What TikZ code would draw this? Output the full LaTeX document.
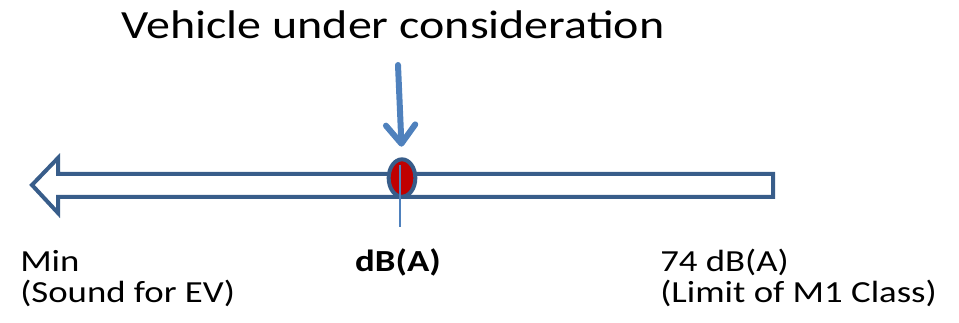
\documentclass[tikz,border=0pt]{standalone}
\usepackage{fontspec}
\setmainfont{Carlito}[FakeStretch=1.2]
\usetikzlibrary{arrows.meta,shapes.geometric}

\definecolor{outline}{HTML}{385D8A}
\definecolor{marker}{HTML}{4F81BD}
\definecolor{hit}{HTML}{C00000}

\begin{document}
\begin{tikzpicture}
[x=0.75pt, y=-0.75pt,
    scale label/.style={anchor=base west, align=left, inner sep=0pt,
        font=\fontsize{23}{23.25}\selectfont},
    level arrow/.style={draw=outline, line width=3pt, line join=miter, fill=white},
    pointer/.style={draw=marker, line width=4.5pt, line cap=round,
        -{Straight Barb[length=14pt, width=22pt, line cap=round, line join=round]}}]
\useasboundingbox (0,0) rectangle (959,323);

% the scale, pointing to the quiet end
\draw [level arrow] (32,185) -- (58,158) -- (58,174) -- (773,174)
    -- (773,197) -- (58,197) -- (58,213) -- cycle;

% the vehicle on the scale
\node (veh) [ellipse, draw=outline, fill=hit, line width=3pt,
    minimum width=20pt, minimum height=28pt, inner sep=0pt] at (402,178) {};
\coordinate (tick top) at (400,165);
\coordinate (tick end) at (400,227);
\draw [marker, line width=1.2pt] (tick top) -- (tick end);

\node (title) [anchor=base, inner sep=0pt, font=\fontsize{30}{36}\selectfont]
    at (393,39) {Vehicle under consideration};
\coordinate (pointer start) at (398,65);
\draw [pointer, shorten >=8pt] (pointer start) -- (veh.north);

% labels under the scale (base = last line)
\node (min) [scale label] at (20,303) {Min\\(Sound for EV)};
\node (level) [scale label, anchor=base, font=\fontsize{23}{23.25}\selectfont\bfseries]
    at (398,272) {dB(A)};
\node (limit) [scale label] at (660,303) {74 dB(A)\\(Limit of M1 Class)};
\end{tikzpicture}
\end{document}
